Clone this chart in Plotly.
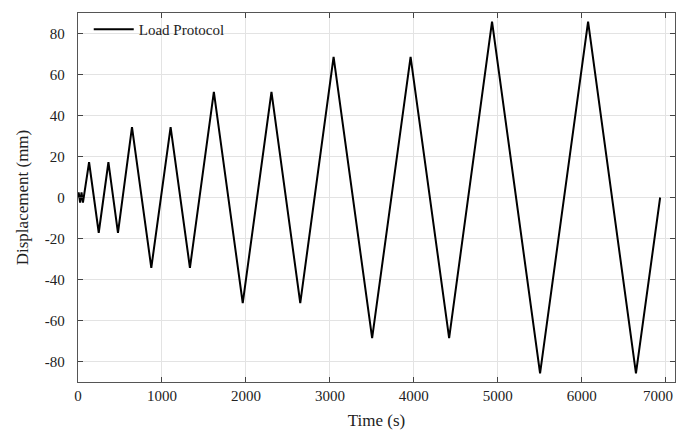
import plotly.graph_objects as go

# Load protocol (time in s, displacement in mm)
time_s = [0, 8, 25, 42, 59, 132, 247, 362, 476, 643, 873, 1103, 1333,
          1618, 1962, 2304, 2647, 3044, 3503, 3961, 4420, 4931, 5503,
          6075, 6645, 6933]
displacement_mm = [0, 2.5, -2.5, 2.5, -2.5, 17.2, -17.2, 17.2, -17.2,
                   34.3, -34.3, 34.3, -34.3, 51.5, -51.5, 51.5, -51.5,
                   68.6, -68.6, 68.6, -68.6, 85.8, -85.8, 85.8, -85.8, 0]

x_ticks = [0, 1000, 2000, 3000, 4000, 5000, 6000, 7000]
x_tick_labels = ["0", "1000", "2000", "3000", "4000", "5000", "6000", ""]
last_x_label = "7000"
y_ticks = [-80, -60, -40, -20, 0, 20, 40, 60, 80]
y_tick_labels = ["-80", "-60", "-40", "-20", "0", "20", "40", "60", "80"]

FONT = "Liberation Serif"
TICKFONT = dict(family=FONT, size=15, color="#222222")

fig = go.Figure()
fig.add_trace(go.Scatter(
    x=time_s, y=displacement_mm, mode="lines", name="Load Protocol",
    line=dict(color="black", width=2),
))

axis_common = dict(
    showline=True, linecolor="#555555", linewidth=1.3, mirror="ticks",
    ticks="inside", ticklen=5, tickcolor="#444444", tickwidth=1.2,
    showgrid=True, gridcolor="#e3e3e3", gridwidth=1, zeroline=False,
    tickfont=TICKFONT, automargin=False,
)

fig.update_layout(
    width=676, height=432,
    margin=dict(l=78, r=1, t=13, b=50),
    paper_bgcolor="white", plot_bgcolor="white",
    font=dict(family=FONT, color="#222222"),
    xaxis=dict(range=[0, 7110], tickvals=x_ticks, ticktext=x_tick_labels,
               title=dict(text="Time (s)", font=dict(family=FONT, size=17), standoff=10),
               **axis_common),
    yaxis=dict(range=[-90, 90], tickvals=y_ticks, ticktext=y_tick_labels,
               ticklabelstandoff=9,
               title=dict(text="Displacement (mm)", font=dict(family=FONT, size=17), standoff=11),
               **axis_common),
    showlegend=True,
    legend=dict(x=0.018, y=1.0, xanchor="left", yanchor="top",
                bgcolor="rgba(0,0,0,0)", borderwidth=0,
                font=dict(family=FONT, size=15, color="#222222"),
                itemwidth=40),
)

# last x tick label sits against the right edge, as in the reference
fig.add_annotation(text=last_x_label, x=1, xref="paper", xanchor="right",
                   y=0, yref="paper", yanchor="top", yshift=-4,
                   showarrow=False, font=TICKFONT)

fig.write_html("out.html",
               config={"displayModeBar": False},
               post_script="document.body.style.margin='0';"
                           "document.body.style.overflow='hidden';")
